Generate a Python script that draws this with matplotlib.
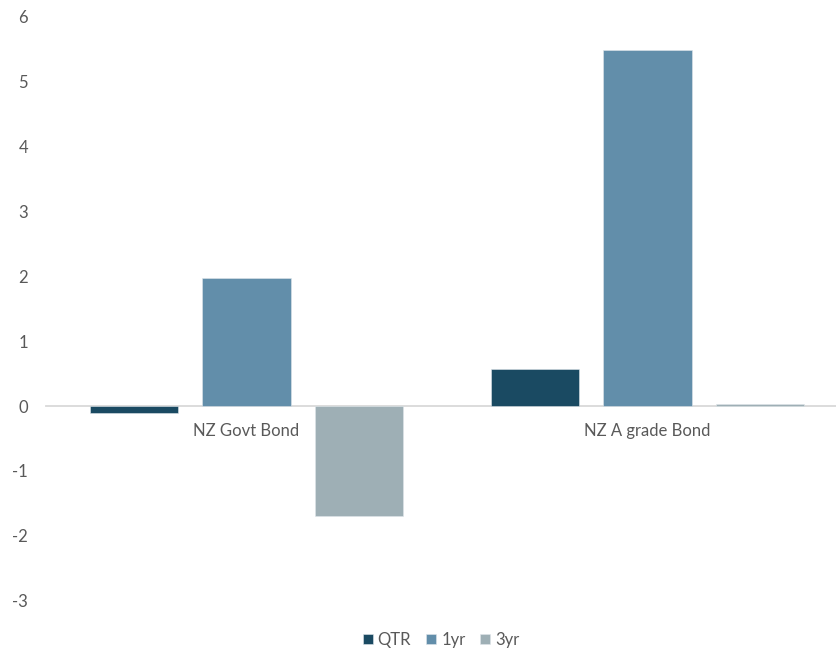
import matplotlib.pyplot as plt
import numpy as np

# bond index returns (%) by period
categories = ['NZ Govt Bond', 'NZ A grade Bond']
series = ['QTR', '1yr', '3yr']
qtr = [-0.11, 0.58]
yr1 = [1.97, 5.49]
yr3 = [-1.70, 0.04]
colours = ['#1A4A62', '#628EAA', '#9EAFB5']
yticks = [-3, -2, -1, 0, 1, 2, 3, 4, 5, 6]

plt.rcParams['font.family'] = ['Lato', 'DejaVu Sans']
grey = '#595959'

fig = plt.figure(figsize=(8.37, 6.53), dpi=100)
ax = fig.add_axes([46/837, 52.3/653, 791/837, 583.7/653])

x = np.arange(len(categories))
width = 0.22
step = 0.28
for k, (vals, col, name) in enumerate(zip([qtr, yr1, yr3], colours, series)):
    ax.bar(x + (k - 1) * step, vals, width, color=col, label=name,
           edgecolor='#dfe6ea', linewidth=0.4, zorder=3)

ax.set_ylim(-3, 6)
ax.set_xlim(-0.5, 1.4726)
ax.set_yticks(yticks)
ax.set_yticklabels([str(t) for t in yticks], color=grey, fontsize=12)
ax.tick_params(axis='y', length=0, pad=13)

ax.spines['bottom'].set_position(('data', 0))
ax.spines['bottom'].set_color('#d9d9d9')
ax.spines['bottom'].set_linewidth(1.3)
for s in ['top', 'right', 'left']:
    ax.spines[s].set_visible(False)
ax.set_xticks(x)
ax.set_xticklabels(categories, color=grey, fontsize=12)
ax.tick_params(axis='x', length=0, pad=12)

fig.legend(loc='center', bbox_to_anchor=(0.527, 0.02), ncol=3, frameon=False,
           fontsize=12, handlelength=0.6, handleheight=0.6, handletextpad=0.3,
           columnspacing=0.9, labelcolor=grey)

fig.savefig('out.png', dpi=100)
